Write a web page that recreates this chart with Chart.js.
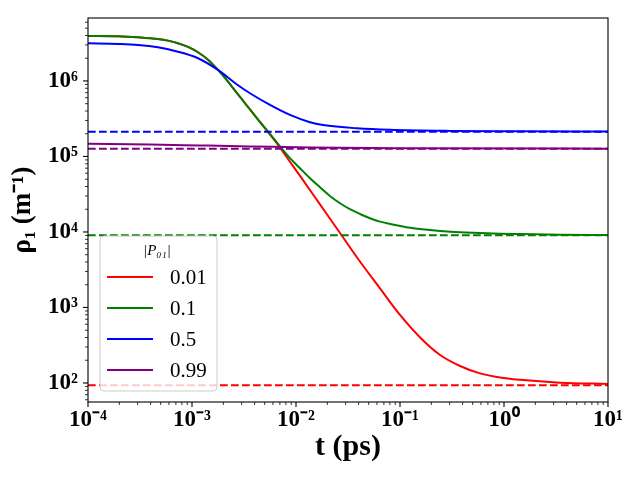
<!DOCTYPE html>
<html><head><meta charset="utf-8">
<script src="https://cdn.jsdelivr.net/npm/chart.js@4/dist/chart.umd.min.js"></script>
<style>html,body{margin:0;padding:0;background:#fff;overflow:hidden}#wrap{width:640px;height:480px}</style>
</head><body><div id="wrap"><canvas id="c" width="640" height="480"></canvas></div>
<script>
// ---- data ----
const pLabels = ['0.01', '0.1', '0.5', '0.99'];
const seriesColors = ['#ff0000', '#008000', '#0000ff', '#800080'];

const tRed = [1.00e-4, 1.944e-4, 3.03e-4, 4.71e-4, 5.88e-4, 7.33e-4, 9.15e-4, 1.142e-3, 1.425e-3, 1.778e-3, 2.22e-3, 2.77e-3, 3.61e-3, 4.51e-3, 5.62e-3, 7.02e-3, 8.75e-3, 1.093e-2, 1.70e-2, 2.65e-2, 4.12e-2, 6.42e-2, 0.1, 0.156, 0.243, 0.378, 0.588, 0.916, 1.43, 3.45, 10];
const rhoRed = [3.94e6, 3.91e6, 3.79e6, 3.60e6, 3.42e6, 3.16e6, 2.82e6, 2.40e6, 1.91e6, 1.40e6, 9.8e5, 6.62e5, 4.20e5, 2.86e5, 1.95e5, 1.31e5, 8.5e4, 5.52e4, 2.32e4, 9.7e3, 4.06e3, 1.79e3, 796, 401, 235, 168, 134, 118, 110, 101, 97];

const tGreen = [1.00e-4, 1.944e-4, 3.03e-4, 4.71e-4, 5.88e-4, 7.33e-4, 9.15e-4, 1.142e-3, 1.425e-3, 1.778e-3, 2.22e-3, 2.77e-3, 3.61e-3, 4.51e-3, 5.62e-3, 7.02e-3, 8.75e-3, 1.093e-2, 1.363e-2, 1.70e-2, 2.12e-2, 2.65e-2, 3.30e-2, 4.12e-2, 5.14e-2, 6.42e-2, 8.01e-2, 0.125, 0.194, 0.243, 0.378, 0.588, 0.916, 1.43, 3.45, 10];
const rhoGreen = [3.94e6, 3.91e6, 3.79e6, 3.60e6, 3.42e6, 3.16e6, 2.82e6, 2.40e6, 1.91e6, 1.40e6, 9.8e5, 6.62e5, 4.20e5, 2.86e5, 1.99e5, 1.36e5, 9.5e4, 6.98e4, 5.14e4, 3.91e4, 3.00e4, 2.40e4, 2.00e4, 1.73e4, 1.52e4, 1.37e4, 1.28e4, 1.14e4, 1.06e4, 1.03e4, 9.9e3, 9.7e3, 9.5e3, 9.4e3, 9.2e3, 9.1e3];

const tBlue = [1.00e-4, 1.944e-4, 3.03e-4, 4.71e-4, 7.33e-4, 1.142e-3, 1.778e-3, 2.22e-3, 2.77e-3, 3.61e-3, 5.62e-3, 8.75e-3, 1.363e-2, 1.82e-2, 3.86e-2, 8.05e-2, 0.305, 1.43, 10];
const rhoBlue = [3.15e6, 3.09e6, 3.00e6, 2.79e6, 2.44e6, 2.00e6, 1.40e6, 1.11e6, 8.77e5, 6.87e5, 4.81e5, 3.55e5, 2.84e5, 2.61e5, 2.36e5, 2.25e5, 2.18e5, 2.16e5, 2.14e5];

const tPurple = [1.00e-4, 3.94e-4, 1.19e-3, 3.61e-3, 1.36e-2, 0.1, 10];
const rhoPurple = [1.47e5, 1.44e5, 1.40e5, 1.36e5, 1.31e5, 1.28e5, 1.27e5];

const asymptotes = [93, 9.05e3, 2.13e5, 1.27e5];

const xLimits = [1e-4, 10];
const yLimits = [56, 6.82e6];
const xTickValues = [1e-4, 1e-3, 1e-2, 1e-1, 1, 10];
const xTickLabels = ['10⁻⁴', '10⁻³', '10⁻²', '10⁻¹', '10⁰', '10¹'];
const yTickValues = [1e2, 1e3, 1e4, 1e5, 1e6];
const yTickLabels = ['10²', '10³', '10⁴', '10⁵', '10⁶'];
const xTitle = 't (ps)';
const yTitle = 'ρ₁ (m⁻¹)';
const legendTitle = '|P₀₁|';

// ---- build datasets ----
const tSeries = [tRed, tGreen, tBlue, tPurple];
const rhoSeries = [rhoRed, rhoGreen, rhoBlue, rhoPurple];
const datasets = [];
let ord = 100;
for (let i = 0; i < pLabels.length; i++) {
  datasets.push({
    label: pLabels[i],
    data: tSeries[i].map((t, k) => ({x: t, y: rhoSeries[i][k]})),
    borderColor: seriesColors[i], borderWidth: 2, pointRadius: 0,
    cubicInterpolationMode: 'monotone', fill: false, order: ord--, isSolid: true
  });
  datasets.push({
    label: '',
    data: xLimits.map(t => ({x: t, y: asymptotes[i]})),
    borderColor: seriesColors[i], borderWidth: 2, pointRadius: 0,
    borderDash: [7.7, 3.3], fill: false, order: ord--, isSolid: false
  });
}

function labelFor(v, vals, labs) {
  for (let i = 0; i < vals.length; i++) {
    if (Math.abs(Math.log10(v) - Math.log10(vals[i])) < 1e-6) return labs[i];
  }
  return '';
}

const tickFont = {family: 'Liberation Serif', size: 23, weight: 'bold'};

const frameTicks = {
  id: 'frameTicks',
  afterDatasetsDraw(chart) {
    const {ctx, chartArea: a, scales} = chart;
    ctx.save();
    ctx.strokeStyle = '#000';
    const draw = (scale, horiz) => {
      const lo = Math.floor(Math.log10(scale.min)), hi = Math.ceil(Math.log10(scale.max));
      for (let e = lo; e <= hi; e++) {
        for (let d = 1; d < 10; d++) {
          const v = d * Math.pow(10, e);
          if (v < scale.min * 0.9999 || v > scale.max * 1.0001) continue;
          const p = scale.getPixelForValue(v);
          const major = d === 1;
          const len = major ? 5 : 3;
          ctx.lineWidth = major ? 1.1 : 0.8;
          ctx.beginPath();
          if (horiz) { ctx.moveTo(p, a.bottom); ctx.lineTo(p, a.bottom + len); }
          else { ctx.moveTo(a.left, p); ctx.lineTo(a.left - len, p); }
          ctx.stroke();
        }
      }
    };
    draw(scales.x, true);
    draw(scales.y, false);
    ctx.lineWidth = 1.1;
    ctx.strokeRect(a.left, a.top, a.right - a.left, a.bottom - a.top);
    ctx.restore();
  },
  afterDraw(chart) {
    const {ctx, chartArea: a} = chart;
    const bx = a.left + 12, bw = 117, bh = 155, by = a.bottom - 11 - bh;
    ctx.save();
    ctx.beginPath();
    if (ctx.roundRect) ctx.roundRect(bx, by, bw, bh, 4); else ctx.rect(bx, by, bw, bh);
    ctx.fillStyle = 'rgba(255,255,255,0.8)';
    ctx.fill();
    ctx.strokeStyle = '#cccccc';
    ctx.lineWidth = 1;
    ctx.stroke();
    ctx.fillStyle = '#000';
    ctx.font = 'italic 15px "Liberation Serif"';
    ctx.textAlign = 'center';
    ctx.textBaseline = 'middle';
    ctx.fillText(legendTitle, bx + 57, by + 15);
    ctx.textAlign = 'left';
    ctx.font = '21px "Liberation Serif"';
    let row = 0;
    chart.data.datasets.forEach(ds => {
      if (!ds.isSolid) return;
      const yy = by + 41 + row * 31;
      ctx.strokeStyle = ds.borderColor;
      ctx.lineWidth = 2;
      ctx.beginPath();
      ctx.moveTo(bx + 7, yy); ctx.lineTo(bx + 53, yy);
      ctx.stroke();
      ctx.fillStyle = '#000';
      ctx.fillText(ds.label, bx + 70, yy + 1);
      row++;
    });
    ctx.restore();
  }
};

new Chart(document.getElementById('c'), {
  type: 'line',
  data: {datasets},
  options: {
    responsive: false,
    animation: false,
    devicePixelRatio: 1,
    layout: {padding: {left: 0, right: 32, top: 18, bottom: 0}},
    plugins: {legend: {display: false}, tooltip: {enabled: false}},
    scales: {
      x: {
        type: 'logarithmic', min: xLimits[0], max: xLimits[1],
        grid: {display: false, drawTicks: false},
        border: {display: false},
        ticks: {autoSkip: false, maxRotation: 0, minRotation: 0, padding: 4, color: '#000', font: tickFont,
          callback: v => labelFor(v, xTickValues, xTickLabels)},
        title: {display: true, text: xTitle, color: '#000',
          font: {family: 'Liberation Serif', size: 30, weight: 'bold'}, padding: {top: 0, bottom: 15}},
        afterFit: s => { s.height = 78; s.paddingLeft = 0; s.paddingRight = 0; }
      },
      y: {
        type: 'logarithmic', min: yLimits[0], max: yLimits[1],
        grid: {display: false, drawTicks: false},
        border: {display: false},
        ticks: {autoSkip: false, padding: 10, color: '#000', font: tickFont,
          callback: v => labelFor(v, yTickValues, yTickLabels)},
        title: {display: true, text: yTitle, color: '#000',
          font: {family: 'Liberation Serif', size: 27, weight: 'bold'}, padding: {top: 7, bottom: 0}},
        afterFit: s => { s.width = 88; s.paddingTop = 0; s.paddingBottom = 0; }
      }
    }
  },
  plugins: [frameTicks]
});
</script></body></html>
